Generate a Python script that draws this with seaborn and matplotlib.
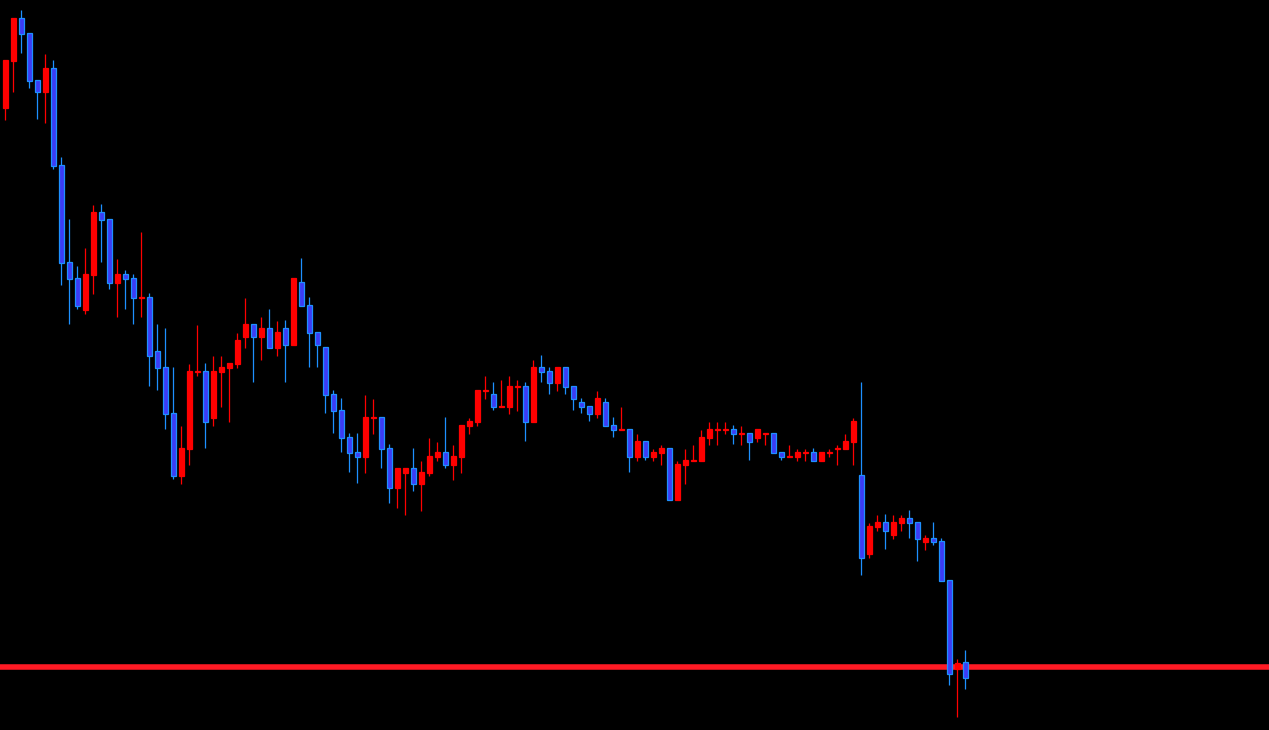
import numpy as np
import pandas as pd
import seaborn as sns
from matplotlib import pyplot as plt

# OHLC per bar, oldest first (price units)
opens = [622, 669, 712, 697, 650, 638, 662, 565, 468, 452, 420, 455, 518, 511, 447, 456, 452, 432, 433, 379,
         363, 317, 254, 281, 358, 359, 312, 358, 362, 366, 393, 406, 393, 402, 382, 402, 385, 448, 425, 398,
         383, 336, 320, 293, 278, 273, 312, 313, 282, 242, 257, 262, 246, 257, 273, 278, 265, 273, 304, 308,
         339, 336, 323, 323, 343, 344, 308, 363, 359, 347, 363, 344, 328, 324, 316, 328, 305, 300, 301, 273,
         289, 273, 277, 282, 230, 265, 269, 269, 292, 300, 300, 301, 296, 297, 292, 296, 297, 278, 273, 273,
         277, 278, 269, 277, 281, 281, 288, 255, 176, 203, 208, 195, 207, 212, 208, 188, 192, 189, 150, 61,
         68]
highs = [670, 712, 720, 697, 650, 676, 670, 573, 511, 464, 482, 525, 526, 511, 471, 460, 456, 498, 437, 406,
         402, 363, 304, 366, 405, 367, 374, 374, 367, 397, 432, 406, 413, 421, 409, 410, 452, 472, 433, 398,
         383, 340, 332, 297, 297, 335, 331, 313, 286, 262, 262, 282, 269, 292, 288, 313, 285, 305, 312, 340,
         354, 348, 350, 354, 350, 348, 370, 375, 363, 363, 363, 344, 332, 324, 339, 332, 313, 323, 301, 296,
         289, 281, 285, 282, 269, 281, 285, 300, 308, 308, 308, 305, 304, 297, 301, 297, 297, 278, 285, 281,
         281, 282, 278, 281, 285, 296, 312, 348, 207, 215, 216, 215, 215, 220, 208, 195, 208, 192, 150, 71,
         80]
lows = [610, 638, 677, 642, 611, 607, 561, 445, 406, 421, 416, 436, 468, 441, 413, 421, 406, 413, 344, 340,
        301, 251, 246, 265, 354, 282, 304, 323, 308, 362, 382, 348, 370, 382, 374, 348, 385, 424, 363, 363,
        317, 297, 278, 258, 247, 257, 296, 262, 227, 222, 215, 239, 219, 254, 269, 262, 250, 257, 296, 304,
        331, 320, 323, 316, 319, 289, 308, 348, 336, 339, 336, 320, 317, 309, 312, 304, 293, 300, 258, 269,
        270, 269, 265, 230, 230, 246, 269, 269, 285, 285, 296, 286, 285, 270, 288, 285, 277, 270, 273, 269,
        269, 269, 269, 273, 265, 281, 265, 155, 172, 199, 181, 191, 199, 192, 169, 180, 185, 149, 45, 13,
        41]
closes = [670, 712, 696, 649, 638, 662, 564, 467, 451, 424, 456, 518, 510, 447, 456, 451, 432, 433, 374, 362,
          316, 254, 282, 359, 359, 308, 359, 363, 367, 390, 406, 393, 402, 382, 398, 385, 452, 424, 397, 385,
          335, 319, 292, 277, 273, 313, 313, 281, 242, 262, 262, 246, 258, 274, 278, 265, 274, 305, 309, 340,
          340, 323, 324, 344, 344, 308, 363, 358, 347, 363, 343, 331, 323, 316, 332, 304, 300, 301, 273, 289,
          273, 278, 282, 230, 266, 270, 270, 293, 301, 301, 301, 296, 297, 288, 301, 297, 277, 273, 274, 278,
          278, 269, 278, 278, 282, 289, 309, 172, 204, 208, 199, 208, 212, 207, 191, 192, 188, 149, 56, 67,
          52]
level = 63.5

df = pd.DataFrame({"Open": opens, "High": highs, "Low": lows, "Close": closes})
df["Bar"] = np.arange(len(df))
df["Up"] = df["Close"] > df["Open"]

sns.set_style("dark", {"axes.facecolor": "black", "figure.facecolor": "black"})

fig = plt.figure(figsize=(12.69, 7.30), dpi=100)
ax = fig.add_axes([0, 0, 1, 1])

bull_col = "#ff0000"
bear_fill = "#3c3cf5"
bear_edge = "#1e90ff"

# horizontal level sits behind the candles
ax.axhline(level, color="#ff1a24", linewidth=4.0, zorder=1)

for up, grp in df.groupby("Up"):
    wick = bull_col if up else bear_edge
    ax.vlines(grp["Bar"], grp["Low"], grp["High"], color=wick, linewidth=0.9, zorder=2)
    bottom = grp[["Open", "Close"]].min(axis=1)
    height = (grp["Close"] - grp["Open"]).abs()
    ax.bar(grp["Bar"], height, bottom=bottom, width=0.55,
           color=bull_col if up else bear_fill,
           edgecolor=bull_col if up else bear_edge, linewidth=0.9, zorder=3)

ax.set_xlim(-0.6875, 157.94)
ax.set_ylim(0, 730)
ax.set_axis_off()

plt.savefig("out.png", facecolor="black")
plt.close()
